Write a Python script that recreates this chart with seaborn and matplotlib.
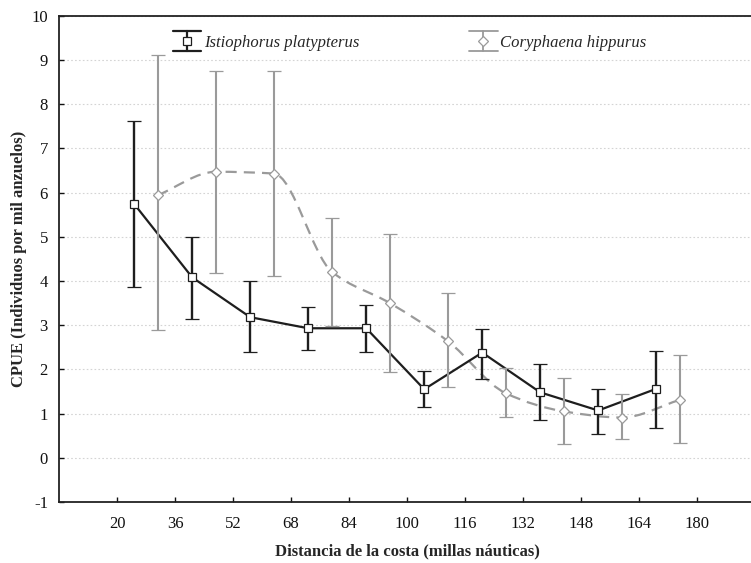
import numpy as np
import pandas as pd
import seaborn as sns
import matplotlib
matplotlib.use("Agg")
import matplotlib.pyplot as plt
from matplotlib.path import Path
from matplotlib.patches import PathPatch
from matplotlib.lines import Line2D
from matplotlib.legend_handler import HandlerBase

# ---- data ----
distance_mid = [28, 44, 60, 76, 92, 108, 124, 140, 156, 172]
x_ticks = [20, 36, 52, 68, 84, 100, 116, 132, 148, 164, 180]
y_ticks = [-1, 0, 1, 2, 3, 4, 5, 6, 7, 8, 9, 10]

istio_mean = [5.74, 4.08, 3.18, 2.93, 2.93, 1.55, 2.38, 1.48, 1.07, 1.56]
istio_upper = [7.61, 4.99, 4.00, 3.41, 3.45, 1.97, 2.92, 2.12, 1.56, 2.42]
istio_lower = [3.86, 3.14, 2.39, 2.43, 2.39, 1.14, 1.79, 0.85, 0.54, 0.68]

cory_mean = [5.94, 6.47, 6.43, 4.21, 3.50, 2.64, 1.46, 1.05, 0.91, 1.31]
cory_upper = [9.10, 8.76, 8.76, 5.43, 5.07, 3.73, 2.02, 1.81, 1.45, 2.32]
cory_lower = [2.88, 4.19, 4.12, 2.99, 1.95, 1.60, 0.93, 0.32, 0.42, 0.33]

label_istio = "Istiophorus platypterus"
label_cory = "Coryphaena hippurus"
xlabel = "Distancia de la costa (millas náuticas)"
ylabel = "CPUE (Individuos por mil anzuelos)"

# ---- style ----
sns.set_style("white")
plt.rcParams["font.family"] = ["Liberation Serif", "DejaVu Serif"]

dodge = 3.25
c_black = "#1e1e1e"
c_gray = "#9a9a9a"

fig = plt.figure(figsize=(7.51, 5.63), dpi=100)
W, H = 751, 563
ax = fig.add_axes([59 / W, (H - 502) / H, (755 - 59) / W, (502 - 15.7) / H])

xm = np.array(distance_mid, dtype=float)
x_istio = xm - dodge
x_cory = xm + dodge

df_i = pd.DataFrame({"x": x_istio, "y": istio_mean})

# black connecting line via seaborn
sns.lineplot(data=df_i, x="x", y="y", ax=ax, color=c_black, lw=1.6,
             legend=False, zorder=3, sort=False)

# smooth (monotone cubic) dashed gray curve through the data points
xs = x_cory
ys = np.array(cory_mean, dtype=float)
hs = np.diff(xs)
ds = np.diff(ys) / hs
ms_t = np.zeros_like(ys)
ms_t[0], ms_t[-1] = ds[0], ds[-1]
for i in range(1, len(ys) - 1):
    if ds[i - 1] * ds[i] > 0:
        ms_t[i] = 2.0 / (1.0 / ds[i - 1] + 1.0 / ds[i])
verts = [(xs[0], ys[0])]
codes = [Path.MOVETO]
for i in range(len(ys) - 1):
    h = hs[i]
    verts += [(xs[i] + h / 3, ys[i] + ms_t[i] * h / 3),
              (xs[i + 1] - h / 3, ys[i + 1] - ms_t[i + 1] * h / 3),
              (xs[i + 1], ys[i + 1])]
    codes += [Path.CURVE4] * 3
patch = PathPatch(Path(verts, codes), facecolor="none", edgecolor=c_gray,
                  lw=1.6, linestyle=(0, (5, 3.2)), transform=ax.transData,
                  zorder=2)
ax.add_patch(patch)

# error bars + markers
ax.errorbar(x_istio, istio_mean,
            yerr=[np.array(istio_mean) - np.array(istio_lower),
                  np.array(istio_upper) - np.array(istio_mean)],
            fmt="s", color=c_black, ecolor=c_black, elinewidth=1.7,
            capsize=4.8, capthick=1.7, ms=6.3, mfc="white", mec=c_black,
            mew=0.9, zorder=4)
ax.errorbar(x_cory, cory_mean,
            yerr=[np.array(cory_mean) - np.array(cory_lower),
                  np.array(cory_upper) - np.array(cory_mean)],
            fmt="D", color=c_gray, ecolor=c_gray, elinewidth=1.5,
            capsize=4.8, capthick=1.5, ms=5.2, mfc="white", mec=c_gray,
            mew=0.9, zorder=3)


class ErrHandle:
    def __init__(self, color, marker, ms, lw):
        self.color, self.marker, self.ms, self.lw = color, marker, ms, lw


class ErrHandler(HandlerBase):
    def create_artists(self, legend, orig, xd, yd, width, height, fontsize, trans):
        cx = xd + width / 2
        cy = yd + height / 2
        top = cy + height * 0.85
        bot = cy - height * 0.85
        arts = [
            Line2D([xd, xd + width], [top, top], color=orig.color, lw=orig.lw),
            Line2D([xd, xd + width], [bot, bot], color=orig.color, lw=orig.lw),
            Line2D([cx, cx], [bot, top], color=orig.color, lw=orig.lw),
            Line2D([cx], [cy], marker=orig.marker, ms=orig.ms, mfc="white",
                   mec=orig.color, mew=0.9, ls="none"),
        ]
        for a in arts:
            a.set_transform(trans)
        return arts


h_i = ErrHandle(c_black, "s", 6.3, 1.6)
h_c = ErrHandle(c_gray, "D", 5.2, 1.3)

# axes
ax.set_xlim(4, 196)
ax.set_ylim(-1, 10)
ax.set_xticks(x_ticks)
ax.set_yticks(y_ticks)
ax.set_xticklabels([str(v) for v in x_ticks])
ax.set_yticklabels([str(v) for v in y_ticks])
ax.tick_params(axis="both", direction="in", length=3.5, width=1.0,
               labelsize=12, colors="#111111")
ax.tick_params(axis="x", pad=10)
ax.tick_params(axis="y", pad=8)
ax.tick_params(left=True, bottom=True)
for s in ax.spines.values():
    s.set_color("#222222")
    s.set_linewidth(1.3)

ax.yaxis.grid(True, linestyle=(0, (1.5, 2)), color="#d4d4d4", lw=0.8)
ax.xaxis.grid(False)
ax.set_axisbelow(True)

ax.set_xlabel(xlabel, fontsize=12, fontweight="bold", labelpad=8)
ax.set_ylabel(ylabel, fontsize=12, fontweight="bold", labelpad=3)

leg = ax.legend(handles=[h_i, h_c], labels=[label_istio, label_cory],
                handler_map={ErrHandle: ErrHandler()},
                loc="center left", bbox_to_anchor=(173 / W, (H - 43) / H),
                bbox_transform=fig.transFigure, ncol=2, frameon=False,
                prop={"family": ["Liberation Serif"], "style": "italic",
                      "size": 12},
                handlelength=1.7, handletextpad=0.15, columnspacing=6.6,
                borderpad=0, borderaxespad=0)

fig.savefig("out.png", dpi=100)
